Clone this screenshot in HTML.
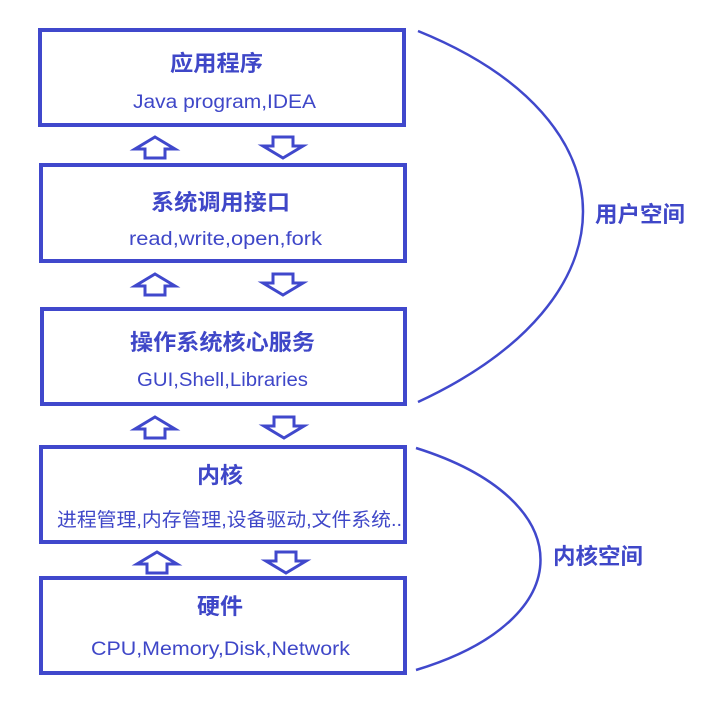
<!DOCTYPE html>
<html><head><meta charset="utf-8"><style>
html,body{margin:0;padding:0;background:#fff;}
svg text{font-family:"Liberation Sans","Noto Sans CJK SC",sans-serif;fill:#3f47c8;}
</style></head><body>
<svg width="717" height="710" viewBox="0 0 717 710" xmlns="http://www.w3.org/2000/svg">
<defs>
<g id="up"><polygon points="0,-10 20,2 10,2 10,11 -10,11 -10,2 -20,2" fill="none" stroke="#4048cc" stroke-width="3"/></g>
<g id="dn"><polygon points="0,11 20,-1 10,-1 10,-10 -10,-10 -10,-1 -20,-1" fill="none" stroke="#4048cc" stroke-width="3"/></g>
</defs>
<g fill="none" stroke="#4048cc" stroke-width="4">
<rect x="40" y="30" width="364" height="95"/>
<rect x="41" y="165" width="364" height="96"/>
<rect x="42" y="309" width="363" height="95"/>
<rect x="41" y="447" width="364" height="95"/>
<rect x="41" y="578" width="364" height="95"/>
<path d="M418,31 C638,120 638,300 418,402" stroke-width="2.5"/>
<path d="M416,448 C582,500 582,620 416,670" stroke-width="2.5"/>
</g>
<use href="#up" x="155" y="147"/><use href="#dn" x="283" y="147"/>
<use href="#up" x="155" y="284"/><use href="#dn" x="283" y="284"/>
<use href="#up" x="155" y="427"/><use href="#dn" x="284" y="427"/>
<use href="#up" x="157" y="562"/><use href="#dn" x="286" y="562"/>
<g font-size="22" font-weight="bold">
<text x="170" y="71" textLength="93" lengthAdjust="spacingAndGlyphs">应用程序</text>
<text x="151" y="210" textLength="139" lengthAdjust="spacingAndGlyphs">系统调用接口</text>
<text x="130" y="350" textLength="185" lengthAdjust="spacingAndGlyphs">操作系统核心服务</text>
<text x="197" y="483" textLength="46" lengthAdjust="spacingAndGlyphs">内核</text>
<text x="197" y="614" textLength="46" lengthAdjust="spacingAndGlyphs">硬件</text>
<text x="595" y="222" textLength="90" lengthAdjust="spacingAndGlyphs">用户空间</text>
<text x="553" y="564" textLength="90" lengthAdjust="spacingAndGlyphs">内核空间</text>
</g>
<g font-size="19">
<text x="133" y="108" textLength="183" lengthAdjust="spacingAndGlyphs">Java program,IDEA</text>
<text x="129" y="245" textLength="193" lengthAdjust="spacingAndGlyphs">read,write,open,fork</text>
<text x="137" y="386" textLength="171" lengthAdjust="spacingAndGlyphs">GUI,Shell,Libraries</text>
<text x="57" y="526" textLength="345" lengthAdjust="spacingAndGlyphs">进程管理,内存管理,设备驱动,文件系统..</text>
<text x="91" y="655" textLength="259" lengthAdjust="spacingAndGlyphs">CPU,Memory,Disk,Network</text>
</g>
</svg>
</body></html>
